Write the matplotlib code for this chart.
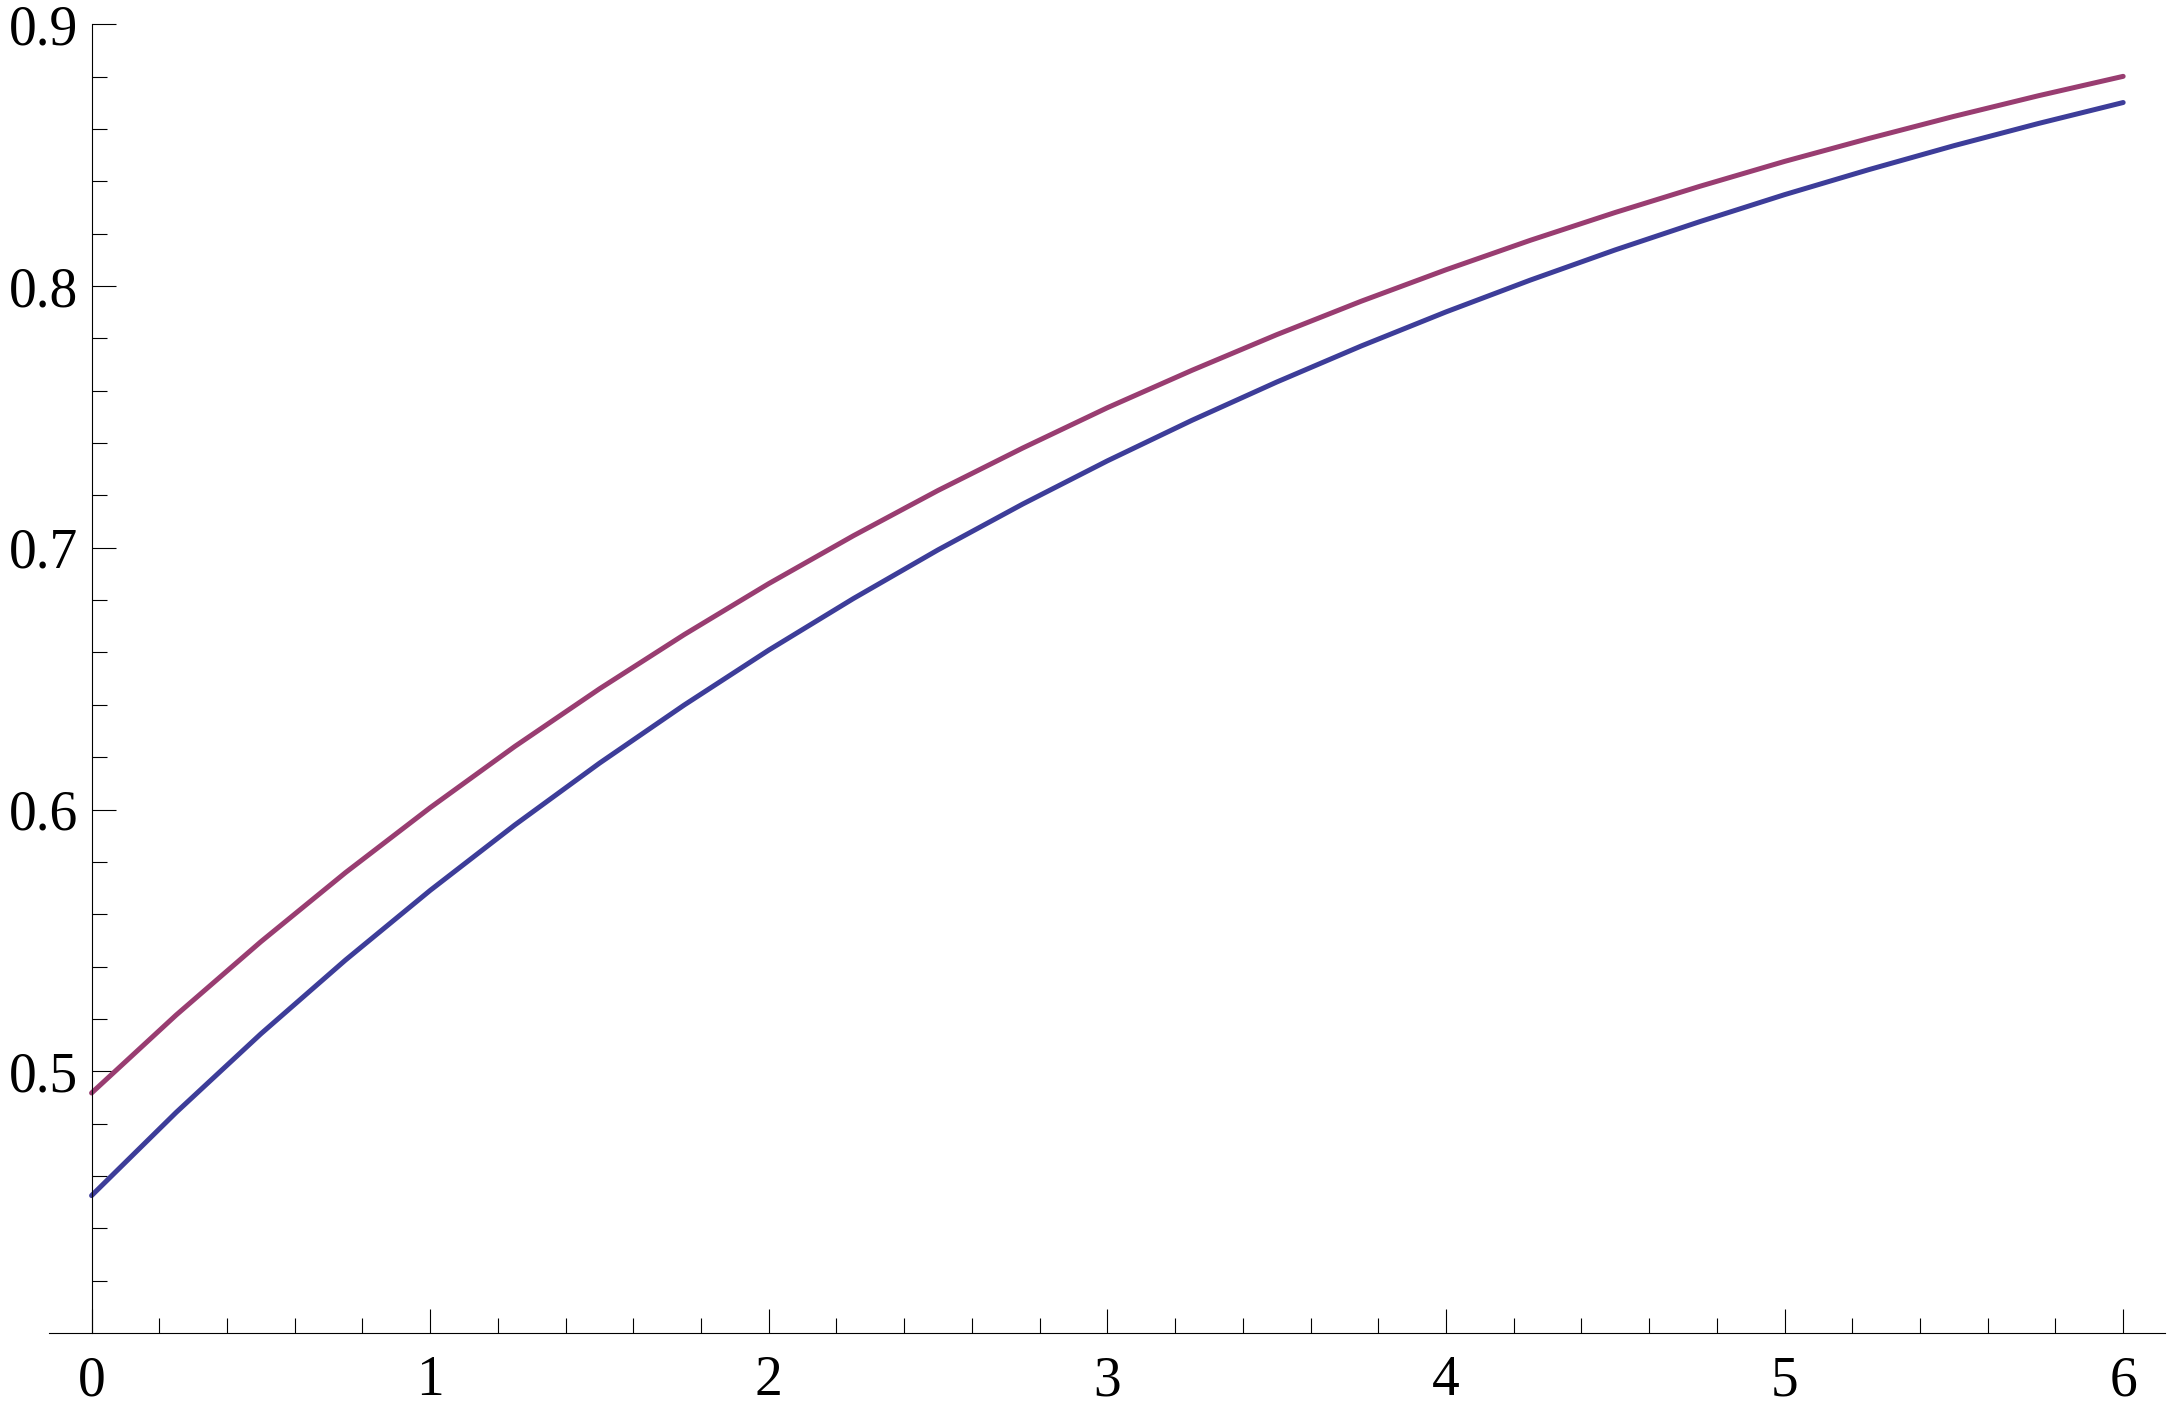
import numpy as np
import matplotlib
matplotlib.use("Agg")
from matplotlib import pyplot as plt
from matplotlib.ticker import FixedLocator

# values, every 0.25 along x
x_vals = [0.0, 0.25, 0.5, 0.75, 1.0, 1.25, 1.5, 1.75, 2.0, 2.25, 2.5, 2.75,
          3.0, 3.25, 3.5, 3.75, 4.0, 4.25, 4.5, 4.75, 5.0, 5.25, 5.5, 5.75,
          6.0]
upper_curve = [0.4917, 0.5215, 0.5495, 0.5759, 0.6007, 0.6241, 0.6461,
               0.6668, 0.6863, 0.7046, 0.7219, 0.7381, 0.7535, 0.7678,
               0.7814, 0.7942, 0.8062, 0.8175, 0.8281, 0.8381, 0.8476,
               0.8564, 0.8648, 0.8727, 0.8801]
lower_curve = [0.4525, 0.4843, 0.5143, 0.5425, 0.5691, 0.5941, 0.6177,
               0.6399, 0.6609, 0.6806, 0.6992, 0.7167, 0.7332, 0.7487,
               0.7633, 0.7771, 0.7901, 0.8023, 0.8138, 0.8246, 0.8349,
               0.8445, 0.8536, 0.8621, 0.8701]
x_ticks = [0, 1, 2, 3, 4, 5, 6]
y_ticks = [0.5, 0.6, 0.7, 0.8, 0.9]

plt.rcParams['font.family'] = ['Liberation Serif', 'DejaVu Serif']

fig = plt.figure(figsize=(21.79, 14.10), dpi=100)
ax = fig.add_axes([0.0226, 0.0546, 0.9712, 0.9282])

ax.plot(x_vals, lower_curve, color='#3d3d99', lw=3.6, solid_capstyle='round',
        solid_joinstyle='round')
ax.plot(x_vals, upper_curve, color='#993d71', lw=3.6, solid_capstyle='round',
        solid_joinstyle='round')

ax.set_xlim(-0.125, 6.125)
ax.set_ylim(0.4, 0.9)

ax.spines['top'].set_visible(False)
ax.spines['right'].set_visible(False)
ax.spines['left'].set_position(('data', 0))
for s in ('left', 'bottom'):
    ax.spines[s].set_linewidth(0.8)

ax.xaxis.set_major_locator(FixedLocator(x_ticks))
ax.xaxis.set_minor_locator(FixedLocator(
    [v / 5 for v in range(31) if v % 5 != 0]))
ax.yaxis.set_major_locator(FixedLocator(y_ticks))
ax.yaxis.set_minor_locator(FixedLocator(
    [0.4 + v * 0.02 for v in range(1, 25) if v % 5 != 0]))
ax.set_xticklabels([str(t) for t in x_ticks])
ax.set_yticklabels(["%.1f" % t for t in y_ticks])

ax.tick_params(which='both', direction='in', width=0.8, labelsize=40)
ax.tick_params(which='major', length=17.3)
ax.tick_params(which='minor', length=10.5)
ax.tick_params(axis='x', pad=16)
ax.tick_params(axis='y', pad=10)

fig.savefig("out.png", dpi=100)
